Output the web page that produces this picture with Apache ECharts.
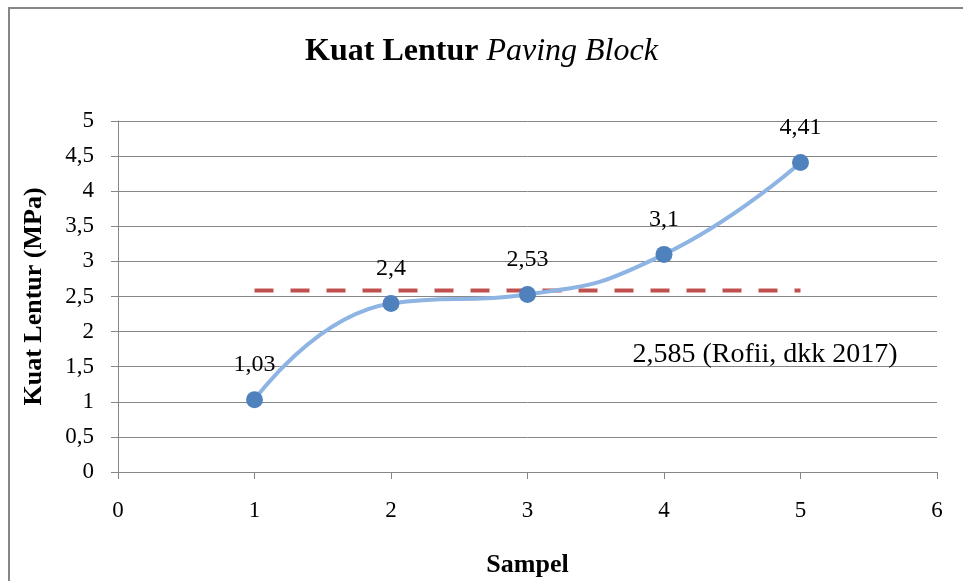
<!DOCTYPE html>
<html>
<head>
<meta charset="utf-8">
<script src="https://cdn.jsdelivr.net/npm/echarts@6/dist/echarts.min.js"></script>
<style>html,body{margin:0;padding:0;background:#fff;}#c{width:963px;height:581px;}</style>
</head>
<body>
<div id="c"></div>
<script>
const samples = [1, 2, 3, 4, 5];
const strength = [1.03, 2.4, 2.53, 3.1, 4.41];
const refValue = 2.585;
const refStart = 1, refEnd = 5;
const refLabel = '2,585 (Rofii, dkk 2017)';
const refLabelAt = [4.74, 1.67];
const yTicks = [0, 0.5, 1, 1.5, 2, 2.5, 3, 3.5, 4, 4.5, 5];
const xTicks = [0, 1, 2, 3, 4, 5, 6];

const fmt = v => String(v).replace('.', ',');
const font = '"Liberation Serif", "Times New Roman", serif';
const chart = echarts.init(document.getElementById('c'), null, {renderer: 'canvas'});
chart.setOption({
  animation: false,
  backgroundColor: '#fff',
  textStyle: {fontFamily: font},
  graphic: [{
    type: 'rect', shape: {x: 9, y: 8, width: 980, height: 600},
    style: {fill: 'none', stroke: '#868686', lineWidth: 2}, silent: true, z: -1
  }],
  title: {
    text: '{b|Kuat Lentur }{i|Paving Block}',
    left: 'center', top: 31,
    textStyle: {
      rich: {
        b: {fontFamily: font, fontWeight: 'bold', fontSize: 32, color: '#000'},
        i: {fontFamily: font, fontWeight: 'normal', fontStyle: 'italic', fontSize: 32, color: '#000'}
      }
    }
  },
  grid: {left: 118, right: 26, top: 121, bottom: 109, containLabel: false, outerBoundsMode: 'none'},
  xAxis: {
    type: 'value', min: 0, max: 6, interval: 1,
    name: 'Sampel', nameLocation: 'middle', nameGap: 80,
    nameTextStyle: {fontFamily: font, fontWeight: 'bold', fontSize: 26, color: '#000'},
    axisLine: {show: true, lineStyle: {color: '#868686', width: 1}},
    axisTick: {show: true, length: 7, lineStyle: {color: '#868686'}},
    axisLabel: {fontFamily: font, fontSize: 23, color: '#000', margin: 27, formatter: v => fmt(v)},
    splitLine: {show: false}
  },
  yAxis: {
    type: 'value', min: 0, max: 5, interval: 0.5,
    name: 'Kuat Lentur (MPa)', nameLocation: 'middle', nameGap: 71, nameRotate: 90,
    nameTextStyle: {fontFamily: font, fontWeight: 'bold', fontSize: 26, color: '#000'},
    axisLine: {show: true, lineStyle: {color: '#868686', width: 1}},
    axisTick: {show: true, length: 7, lineStyle: {color: '#868686'}},
    axisLabel: {fontFamily: font, fontSize: 23, color: '#000', margin: 24, formatter: v => fmt(v)},
    splitLine: {show: true, lineStyle: {color: '#868686', width: 1}}
  },
  series: [
    {
      type: 'line', name: 'ref',
      data: [[refStart, refValue], [refEnd, refValue]],
      symbol: 'none',
      lineStyle: {color: '#C0504D', width: 4, type: [19, 17]},
      z: 2,
      markPoint: {
        symbol: 'circle', symbolSize: 0,
        data: [{coord: refLabelAt, value: refLabel}],
        label: {show: true, formatter: refLabel, fontFamily: font, fontSize: 28, color: '#000', position: 'inside'}
      }
    },
    {
      type: 'line', name: 'Kuat Lentur',
      data: samples.map((s, i) => [s, strength[i]]),
      smooth: 0.5,
      symbol: 'circle', symbolSize: 17,
      itemStyle: {color: '#4F81BD'},
      lineStyle: {color: '#8EB4E3', width: 4},
      label: {show: true, position: 'top', distance: 14, fontFamily: font, fontSize: 24, color: '#000',
        formatter: p => fmt(p.value[1])},
      z: 3
    }
  ]
});
</script>
</body>
</html>
